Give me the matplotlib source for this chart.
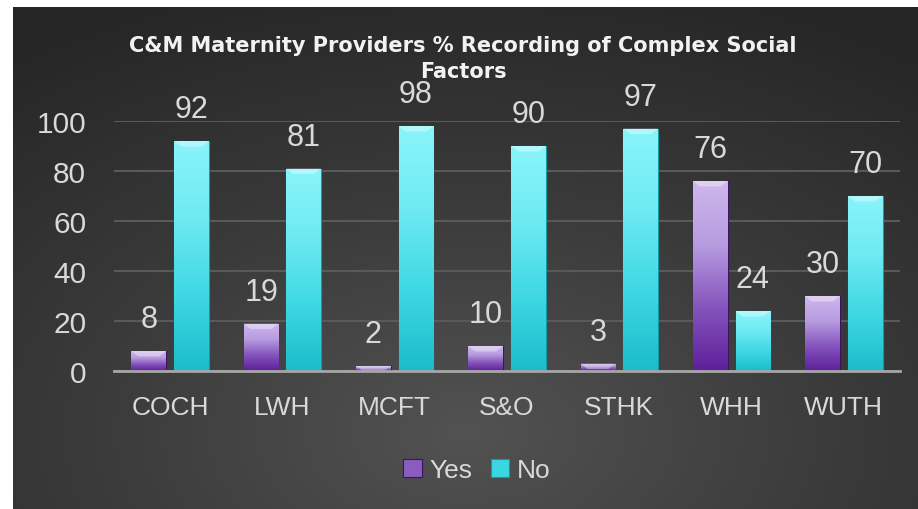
import numpy as np
import matplotlib
matplotlib.use('Agg')
import matplotlib.pyplot as plt
from matplotlib.colors import LinearSegmentedColormap

# data
providers = ['COCH', 'LWH', 'MCFT', 'S&O', 'STHK', 'WHH', 'WUTH']
yes_vals = [8, 19, 2, 10, 3, 76, 30]
no_vals = [92, 81, 98, 90, 97, 24, 70]

txt_col = '#d9d9d9'
plt.rcParams['font.family'] = ['Liberation Sans', 'DejaVu Sans']

fig = plt.figure(figsize=(9.18, 5.10), dpi=100)
fig.patch.set_facecolor('white')

# dark radial background panel (white strip on left and top)
bg = fig.add_axes([13 / 918, 0, 1 - 13 / 918, 1 - 8 / 510])
bg.set_axis_off()
yy, xx = np.mgrid[0:1:300j, 0:1:500j]
r = np.sqrt(((xx - 0.5) * 1.0) ** 2 + ((yy - 0.85) * 0.9) ** 2)
r = np.clip(r / 0.85, 0, 1)
bg_cmap = LinearSegmentedColormap.from_list('bg', ['#525252', '#3a3a3a', '#262626'])
bg.imshow(r, cmap=bg_cmap, aspect='auto', extent=[0, 1, 0, 1], origin='upper')
bg.set_xlim(0, 1)
bg.set_ylim(0, 1)

ax = fig.add_axes([114 / 918, 1 - 372 / 510, (900 - 114) / 918, 250 / 510])
ax.patch.set_alpha(0)

x = np.arange(len(providers))
width = 0.31
off = 0.19

bars_yes = ax.bar(x - off, yes_vals, width, color='#8a5cc0', label='Yes', zorder=3)
bars_no = ax.bar(x + off, no_vals, width, color='#3ad6e2', label='No', zorder=3)

yes_cmap = LinearSegmentedColormap.from_list('yes', ['#5e1f9a', '#8454bc', '#b89ce0', '#cdb8ec'])
no_cmap = LinearSegmentedColormap.from_list('no', ['#1cbccb', '#3fd8e4', '#6eeaf2', '#8af4fa'])
grad = np.linspace(0, 1, 256).reshape(-1, 1)

for bars, cm, edge in [(bars_yes, yes_cmap, '#3c1466'), (bars_no, no_cmap, '#139aa6')]:
    for b in bars:
        x0, w, h = b.get_x(), b.get_width(), b.get_height()
        im = ax.imshow(grad, cmap=cm, aspect='auto', extent=[x0, x0 + w, 0, h],
                       origin='lower', zorder=3.5)
        im.set_clip_path(b)
        b.set_edgecolor(edge)
        b.set_linewidth(0.8)
        # bevel highlight on top
        bev = min(h, 2.2)
        ax.fill([x0, x0 + w, x0 + w * 0.8, x0 + w * 0.2], [h, h, h - bev, h - bev],
                color='white', alpha=0.35, zorder=4, lw=0)

for bars, vals in [(bars_yes, yes_vals), (bars_no, no_vals)]:
    for b, v in zip(bars, vals):
        ax.annotate(str(v), (b.get_x() + b.get_width() / 2, v), xytext=(0, 12),
                    textcoords='offset points', ha='center', va='bottom',
                    fontsize=22, color=txt_col, annotation_clip=False, zorder=5)

ax.set_xlim(-0.5, len(providers) - 0.5)
ax.set_ylim(0, 100)
ax.set_yticks(range(0, 101, 20))
ax.set_xticks(x)
ax.set_xticklabels(providers)
ax.tick_params(axis='x', length=0, pad=17, labelsize=19, colors=txt_col)
ax.tick_params(axis='y', length=0, pad=20, labelsize=21.5, colors=txt_col)
ax.grid(axis='y', color='#595959', linewidth=1.5, zorder=0)
for s in ['top', 'right', 'left']:
    ax.spines[s].set_visible(False)
ax.spines['bottom'].set_color('#a6a6a6')
ax.spines['bottom'].set_linewidth(2)
ax.spines['bottom'].set_zorder(6)

fig.text(463 / 918, 1 - 59 / 510, 'C&M Maternity Providers % Recording of Complex Social\nFactors',
         ha='center', va='center', fontsize=15, fontweight='bold', color='#f2f2f2',
         family='DejaVu Sans', linespacing=1.4)

leg = fig.legend(handles=[bars_yes, bars_no], labels=['Yes', 'No'], loc='center',
                 bbox_to_anchor=(477 / 918, 1 - 471 / 510), ncol=2, frameon=False,
                 fontsize=19, labelcolor=txt_col, handlelength=0.7, handleheight=0.7,
                 handletextpad=0.3, columnspacing=0.7)

plt.savefig('out.png', dpi=100)
